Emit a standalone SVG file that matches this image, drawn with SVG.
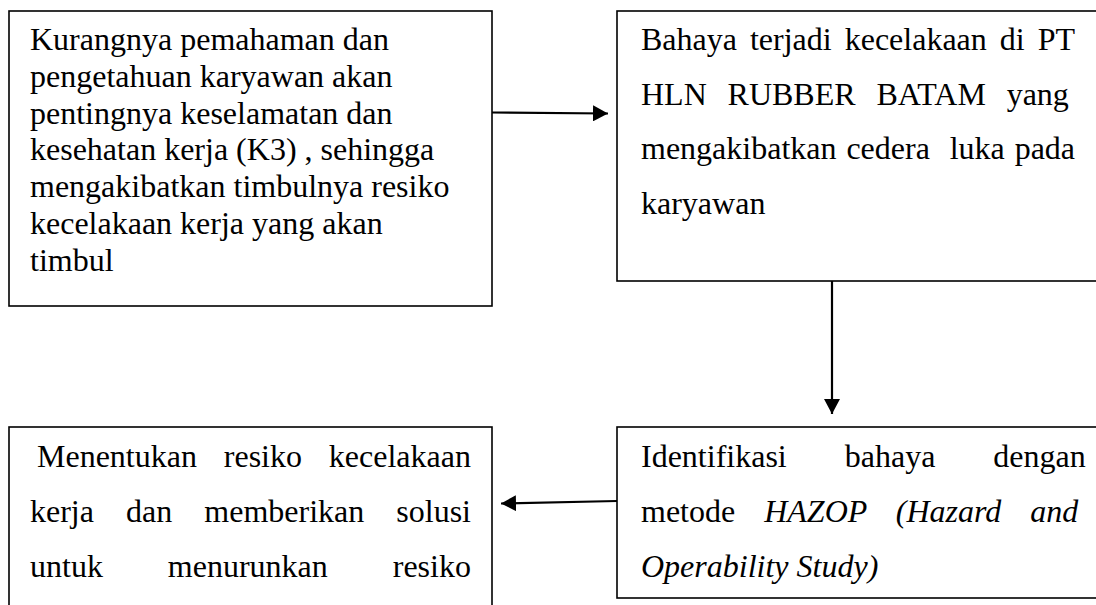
<svg xmlns="http://www.w3.org/2000/svg" width="1096" height="605" viewBox="0 0 1096 605">
<style>
.box{fill:#fff;stroke:#000;stroke-width:1.6}
.t{font-family:"Liberation Serif","Times New Roman",serif;font-size:32px;fill:#000}
.i{font-style:italic}
.c{stroke:#000;stroke-width:2.2;fill:none}
</style>
<defs>
<marker id="ah" markerWidth="16" markerHeight="16" refX="15" refY="8" orient="auto" markerUnits="userSpaceOnUse">
<path d="M0,0 L15,8 L0,16 Z" fill="#000"/>
</marker>
</defs>
<rect width="1096" height="605" fill="#fff"/>
<g id="node1">
<rect class="box" x="9" y="11" width="483" height="295"/>
<text class="t" x="30" y="50">Kurangnya pemahaman dan</text>
<text class="t" x="30" y="86.8">pengetahuan karyawan akan</text>
<text class="t" x="30" y="123.6">pentingnya keselamatan dan</text>
<text class="t" x="30" y="160.4">kesehatan kerja (K3) , sehingga</text>
<text class="t" x="30" y="197.2">mengakibatkan timbulnya resiko</text>
<text class="t" x="30" y="234">kecelakaan kerja yang akan</text>
<text class="t" x="30" y="270.8">timbul</text>
</g>
<g id="node2">
<rect class="box" x="617" y="11" width="490" height="270"/>
<text class="t" x="641" y="50" word-spacing="5">Bahaya terjadi kecelakaan di PT</text>
<text class="t" x="641" y="104.5" word-spacing="12.8">HLN RUBBER BATAM yang</text>
<text class="t" x="641" y="159" word-spacing="1.9">mengakibatkan cedera&#160; luka pada</text>
<text class="t" x="641" y="213.5">karyawan</text>
</g>
<g id="node3">
<rect class="box" x="9" y="427" width="483" height="200"/>
<text class="t" x="37" y="467" word-spacing="18.85">Menentukan resiko kecelakaan</text>
<text class="t" x="30" y="522" word-spacing="24.07">kerja dan memberikan solusi</text>
<text class="t" x="30" y="577" word-spacing="56.95">untuk menurunkan resiko</text>
</g>
<g id="node4">
<rect class="box" x="617" y="427" width="490" height="171"/>
<text class="t" x="641" y="467" word-spacing="50">Identifikasi bahaya dengan</text>
<text class="t" x="641" y="522" word-spacing="21">metode <tspan class="i">HAZOP (Hazard and</tspan></text>
<text class="t i" x="641" y="577">Operability Study)</text>
</g>
<g id="connectors">
<line class="c" x1="492" y1="112.5" x2="608" y2="113.5" marker-end="url(#ah)"/>
<line class="c" x1="832" y1="281" x2="832" y2="414" marker-end="url(#ah)"/>
<line class="c" x1="617" y1="501" x2="501" y2="503.5" marker-end="url(#ah)"/>
</g>
</svg>
